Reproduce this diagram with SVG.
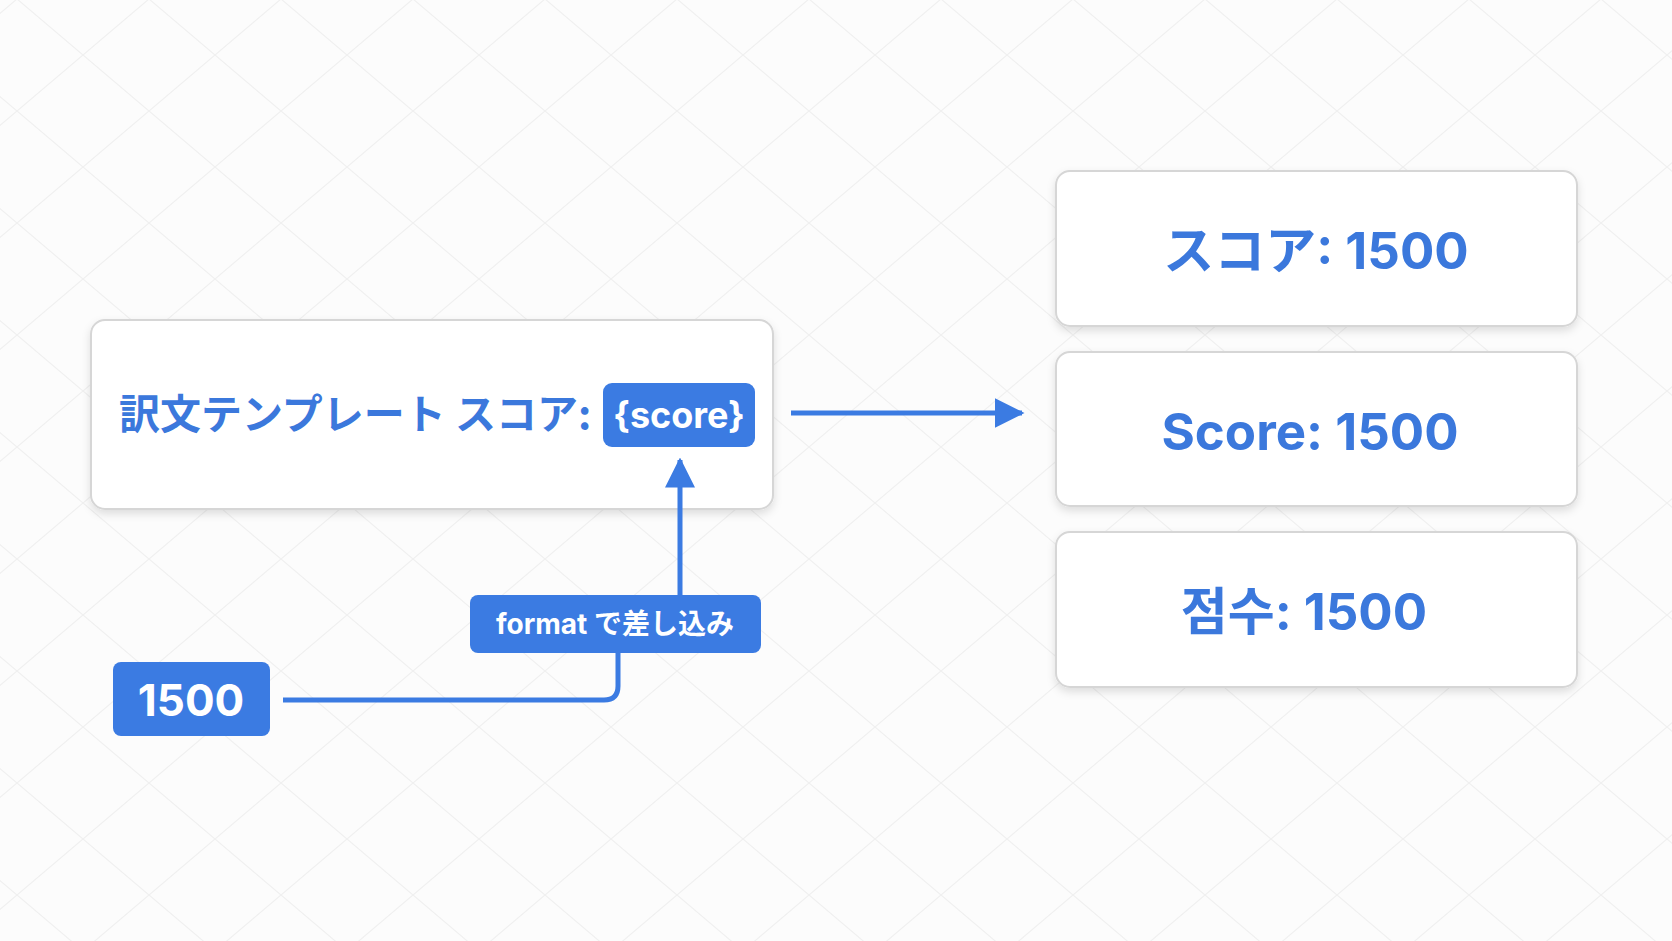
<svg xmlns="http://www.w3.org/2000/svg" width="1672" height="941" viewBox="0 0 1672 941">
<style>
.card{fill:#ffffff;stroke:#d6d6d6;stroke-width:2}
.chip{fill:#3b7be2}
.ctext{font-family:Inter,"Noto Sans CJK JP",sans-serif;font-weight:700;fill:#3b78dc}
.wtext{font-family:Inter,"Noto Sans CJK JP",sans-serif;font-weight:700;fill:#ffffff}
.conn{fill:none;stroke:#3b7be2;stroke-width:5}
</style>
<defs>
<pattern id="bg" patternUnits="userSpaceOnUse" x="17" y="-1" width="132" height="112">
<path d="M0,0 L132,112 M132,0 L0,112" stroke="#f0f0f0" stroke-width="1.2" fill="none"/>
</pattern>
<filter id="sh" x="-10%" y="-20%" width="120%" height="150%">
<feDropShadow dx="0" dy="4" stdDeviation="4" flood-color="#000" flood-opacity="0.12"/>
</filter>
<marker id="ah" markerWidth="6" markerHeight="6" refX="5.5" refY="3" orient="auto" markerUnits="strokeWidth">
<path d="M0,0 L6,3 L0,6 Z" fill="#3b7be2"/>
</marker>
</defs>
<rect width="1672" height="941" fill="#fcfcfc"/>
<rect width="1672" height="941" fill="url(#bg)"/>

<g id="template">
<rect class="card" filter="url(#sh)" x="91" y="320" width="682" height="189" rx="14"/>
<text class="ctext" x="119" y="429" font-size="41" style="font-family:'Noto Sans CJK JP',sans-serif">訳文テンプレート スコア:</text>
</g>
<g id="placeholder">
<rect class="chip" x="603" y="383" width="152" height="64" rx="9"/>
<text class="wtext" x="679" y="428" font-size="36" text-anchor="middle">{score}</text>
</g>
<g id="value">
<rect class="chip" x="113" y="662" width="157" height="74" rx="8"/>
<text class="wtext" x="191" y="716" font-size="44" text-anchor="middle">1500</text>
</g>
<g id="out-ja">
<rect class="card" filter="url(#sh)" x="1056" y="171" width="521" height="155" rx="14"/>
<text class="ctext" x="1316" y="269" font-size="51" text-anchor="middle">スコア: 1500</text>
</g>
<g id="out-en">
<rect class="card" filter="url(#sh)" x="1056" y="352" width="521" height="154" rx="14"/>
<text class="ctext" x="1310" y="450" font-size="51" text-anchor="middle">Score: 1500</text>
</g>
<g id="out-ko">
<rect class="card" filter="url(#sh)" x="1056" y="532" width="521" height="155" rx="14"/>
<text class="ctext" x="1304" y="630" font-size="51" text-anchor="middle" style="font-family:Inter,'Noto Sans CJK KR',sans-serif">점수: 1500</text>
</g>

<g id="connectors">
<line class="conn" x1="791" y1="413" x2="1022" y2="413" marker-end="url(#ah)"/>
<path class="conn" d="M283,700 H604 Q618,700 618,686 V653"/>
<line class="conn" x1="680" y1="595" x2="680" y2="460" marker-end="url(#ah)"/>
</g>

<g id="format-label">
<rect class="chip" x="470" y="595" width="291" height="58" rx="8"/>
<text class="wtext" x="615" y="634" font-size="28" text-anchor="middle">format で差し込み</text>
</g>
</svg>
